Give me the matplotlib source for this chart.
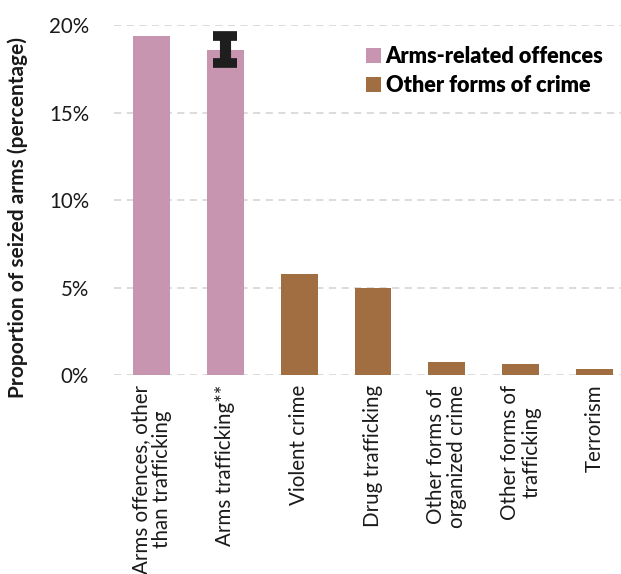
import matplotlib
matplotlib.use('Agg')
import matplotlib.pyplot as plt
from matplotlib.patches import Patch
from matplotlib.ticker import FuncFormatter

plt.rcParams['font.family'] = ['Lato', 'DejaVu Sans']

# Share of seized arms by type of offence (%)
categories = ['Arms offences, other\nthan trafficking', 'Arms trafficking**', 'Violent crime',
              'Drug trafficking', 'Other forms of\norganized crime', 'Other forms of\ntrafficking',
              'Terrorism']
shares = [19.4, 18.6, 5.8, 4.95, 0.72, 0.62, 0.32]
groups = ['arms', 'arms', 'other', 'other', 'other', 'other', 'other']
trafficking_err = 0.75  # range shown on the arms trafficking bar

colours = {'arms': '#C795B0', 'other': '#A06E40'}
legend_labels = {'arms': 'Arms-related offences', 'other': 'Other forms of crime'}

fig = plt.figure(figsize=(6.21, 5.74), dpi=100)
ax = fig.add_axes([0.1836, 0.3467, 0.8164, 0.6097])

x = list(range(len(categories)))
ax.bar(x, shares, width=0.5, color=[colours[g] for g in groups], zorder=2)
ax.errorbar(x[1], shares[1], yerr=trafficking_err, fmt='none', ecolor='#1E1E1E',
            elinewidth=8, capsize=8.5, capthick=7, zorder=3, clip_on=False)

ax.set_xlim(-0.51, 6.36)
ax.set_ylim(0, 20)
ax.set_yticks([0, 5, 10, 15, 20])
ax.yaxis.set_major_formatter(FuncFormatter(lambda v, p: f'{v:.0f}%'))
ax.grid(axis='y', color='#D9D9D9', linestyle=(0, (4, 3)), linewidth=1.3, zorder=0)
ax.set_axisbelow(True)
for s in ax.spines.values():
    s.set_visible(False)
ax.tick_params(axis='both', length=0, labelsize=14.8, colors='#1A1A1A')
ax.tick_params(axis='y', pad=18)
ax.tick_params(axis='x', pad=7)
ax.set_xticks(x)
ax.set_xticklabels(categories, rotation=90, ha='center', va='top', multialignment='center',
                   linespacing=1.05)

ax.set_ylabel('Proportion of seized arms (percentage)', fontsize=15, fontweight='bold',
              color='#1A1A1A')
ax.yaxis.set_label_coords(-0.17, 0.45)

handles = [Patch(facecolor=colours[k], label=legend_labels[k]) for k in ['arms', 'other']]
ax.legend(handles=handles, loc='upper left', bbox_to_anchor=(0.48, 0.965), frameon=False,
          prop={'weight': 'heavy', 'size': 15.6}, handlelength=0.7, handleheight=0.7,
          handletextpad=0.2, labelspacing=0.38, borderaxespad=0)

fig.savefig('out.png', dpi=100)
